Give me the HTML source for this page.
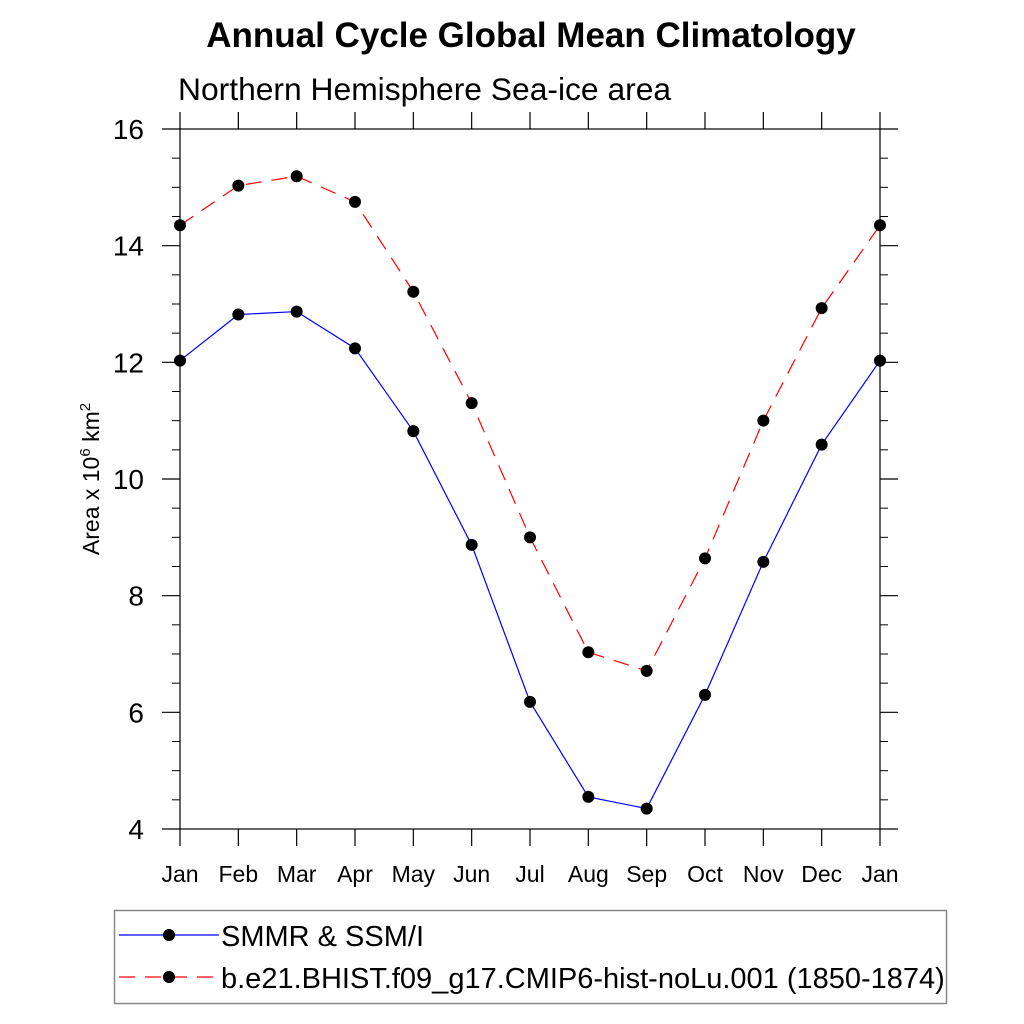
<!DOCTYPE html>
<html><head><meta charset="utf-8"><style>
body{margin:0;background:#fff;}
svg{display:block;font-family:"Liberation Sans",sans-serif;}
</style></head><body>
<svg id="chart" width="1024" height="1024" viewBox="0 0 1024 1024">
<text x="531" y="47" text-anchor="middle" font-size="35" font-weight="bold">Annual Cycle Global Mean Climatology</text>
<text x="178" y="100" font-size="31.8">Northern Hemisphere Sea-ice area</text>
<text transform="translate(99,479) rotate(-90)" text-anchor="middle" font-size="23">Area x 10<tspan dy="-9" font-size="15">6</tspan><tspan dy="9"> km</tspan><tspan dy="-9" font-size="15">2</tspan></text>
<g id="axes"></g>
<g id="series"></g>
<g>
<rect x="114.5" y="910.5" width="832" height="93" fill="#fff" stroke="#888" stroke-width="1.5"/>
<g>
<line x1="119" y1="935" x2="219" y2="935" stroke="#00f" stroke-width="1.2"/>
<circle cx="169" cy="935" r="6" fill="#000"/>
<text x="221" y="946" font-size="29">SMMR &amp; SSM/I</text></g>
<g>
<line x1="119" y1="977" x2="219" y2="977" stroke="#f00" stroke-width="1.2" stroke-dasharray="16,10"/>
<circle cx="169" cy="977" r="6" fill="#000"/>
<text x="221" y="988" font-size="29">b.e21.BHIST.f09_g17.CMIP6-hist-noLu.001 (1850-1874)</text></g>
</g>
</svg>
<script>
const months=["Jan","Feb","Mar","Apr","May","Jun","Jul","Aug","Sep","Oct","Nov","Dec","Jan"];
const obsValues=[12.03,12.82,12.87,12.24,10.82,8.87,6.18,4.55,4.35,6.30,8.58,10.59,12.03];
const modelValues=[14.35,15.03,15.19,14.75,13.21,11.30,9.00,7.03,6.71,8.64,11.00,12.93,14.35];
const yTicks=[4,6,8,10,12,14,16];
const NS="http://www.w3.org/2000/svg";
const X0=180,X1=880,Y0=829,Y1=129,YMIN=4,YMAX=16;
function xs(i){return X0+(X1-X0)*i/(months.length-1);}
function ys(v){return Y0-(v-YMIN)/(YMAX-YMIN)*(Y0-Y1);}
function mk(tag,attrs,parent){const e=document.createElementNS(NS,tag);for(const k in attrs)e.setAttribute(k,attrs[k]);parent.appendChild(e);return e;}
const axes=document.getElementById('axes');
let f=mk('rect',{x:X0,y:Y1,width:X1-X0,height:Y0-Y1,fill:'none',stroke:'#000','stroke-width':1.2},axes);


yTicks.forEach(v=>{
  const y=ys(v);
  let l=mk('line',{x1:X0-18,x2:X0,y1:y,y2:y,stroke:'#000','stroke-width':1.2},axes);
  
  
  mk('line',{x1:X1,x2:X1+18,y1:y,y2:y,stroke:'#000','stroke-width':1.2},axes);
  let t=mk('text',{x:X0-36,y:y+10,'text-anchor':'end','font-size':28},axes);
  t.textContent=v;
  
  
});
for(let v=YMIN+0.5;v<YMAX;v+=0.5){
  if(Math.abs(v-Math.round(v/2)*2)<1e-6)continue;
  const y=ys(v);
  mk('line',{x1:X0-8,x2:X0,y1:y,y2:y,stroke:'#000','stroke-width':1},axes);
  mk('line',{x1:X1,x2:X1+8,y1:y,y2:y,stroke:'#000','stroke-width':1},axes);
}
months.forEach((m,i)=>{
  const x=xs(i);
  mk('line',{x1:x,x2:x,y1:Y0,y2:Y0+17,stroke:'#000','stroke-width':1.2},axes);
  mk('line',{x1:x,x2:x,y1:Y1-17,y2:Y1,stroke:'#000','stroke-width':1.2},axes);
  let t=mk('text',{x:x,y:882,'text-anchor':'middle','font-size':23},axes);
  t.textContent=m;
  
  
});
const ser=document.getElementById('series');
function draw(vals,color,dash,name){
  const g=mk('g',{},ser);
  
  
  const pts=vals.map((v,i)=>xs(i)+','+ys(v)).join(' ');
  const a={points:pts,fill:'none',stroke:color,'stroke-width':1.2};
  if(dash)a['stroke-dasharray']=dash;
  mk('polyline',a,g);
  vals.forEach((v,i)=>{
    const c=mk('circle',{cx:xs(i),cy:ys(v),r:6,fill:'#000'},g);
    
    
  });
}
draw(modelValues,'#f00','16,10','model-series');
draw(obsValues,'#00f',null,'obs-series');
</script>
</body></html>
